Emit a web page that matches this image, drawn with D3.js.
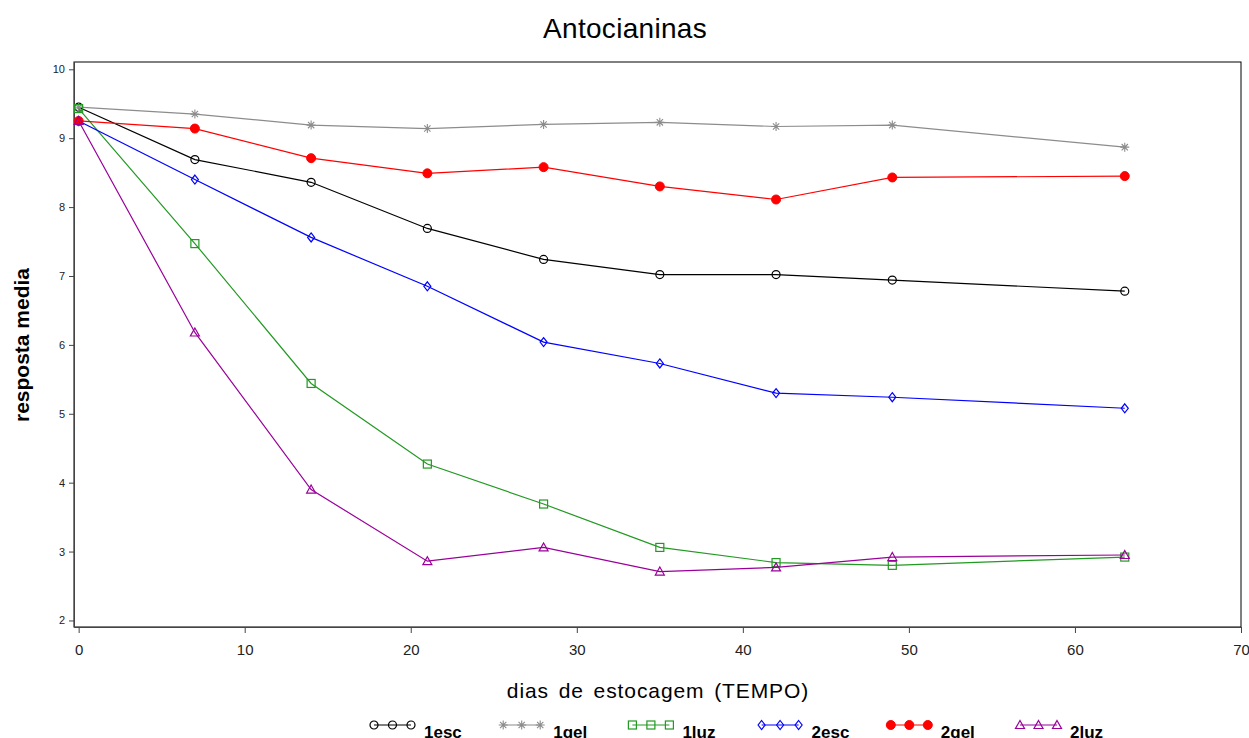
<!DOCTYPE html>
<html>
<head>
<meta charset="utf-8">
<script src="https://cdn.jsdelivr.net/npm/d3@7"></script>
<style>
  body { margin: 0; background: #fff; }
  svg { display: block; font-family: Arial, "Liberation Sans", sans-serif; }
</style>
</head>
<body>
<svg width="1249" height="738"></svg>
<script>
// dias de estocagem
const dias = [0, 7, 14, 21, 28, 35, 42, 49, 63];

const esc1 = [9.45, 8.69, 8.36, 7.69, 7.24, 7.02, 7.02, 6.94, 6.78];
const gel1 = [9.45, 9.35, 9.19, 9.14, 9.20, 9.23, 9.17, 9.19, 8.87];
const luz1 = [9.43, 7.47, 5.44, 4.27, 3.69, 3.06, 2.84, 2.80, 2.92];
const esc2 = [9.25, 8.40, 7.56, 6.85, 6.04, 5.73, 5.30, 5.24, 5.08];
const gel2 = [9.25, 9.14, 8.71, 8.49, 8.58, 8.30, 8.11, 8.43, 8.45];
const luz2 = [9.25, 6.18, 3.90, 2.86, 3.06, 2.71, 2.77, 2.92, 2.95];

const xTicks = [0, 10, 20, 30, 40, 50, 60, 70];
const yTicks = [2, 3, 4, 5, 6, 7, 8, 9, 10];

const series = [
  { name: "1esc", values: esc1, color: "#000000", sym: "circle" },
  { name: "1gel", values: gel1, color: "#8c8c8c", sym: "star" },
  { name: "1luz", values: luz1, color: "#229922", sym: "square" },
  { name: "2esc", values: esc2, color: "#0000ff", sym: "diamond" },
  { name: "2gel", values: gel2, color: "#ff0000", sym: "dot" },
  { name: "2luz", values: luz2, color: "#990099", sym: "triangle" }
];

var svg = d3.select("svg");
var pLeft = 74, pRight = 1241, pTop = 62, pBottom = 627;

var x = d3.scaleLinear().domain([-0.28, 70]).range([pLeft, pRight]);
var y = d3.scaleLinear().domain([1.905, 10.106]).range([pBottom, pTop]);

// frame
svg.append("rect")
  .attr("x", pLeft).attr("y", pTop)
  .attr("width", pRight - pLeft).attr("height", pBottom - pTop)
  .attr("fill", "none").attr("stroke", "#000").attr("stroke-width", 1);

var xAxis = svg.append("g")
  .attr("transform", "translate(0," + pBottom + ")")
  .call(d3.axisBottom(x).tickValues(xTicks).tickSize(6).tickPadding(11).tickSizeOuter(0));
xAxis.select(".domain").attr("stroke", "#444");
xAxis.selectAll("text").style("font-size", "15px").attr("fill", "#222");
xAxis.selectAll("line").attr("stroke", "#444");

var yAxis = svg.append("g")
  .attr("transform", "translate(" + pLeft + ",0)")
  .call(d3.axisLeft(y).tickValues(yTicks).tickSize(5).tickPadding(4).tickSizeOuter(0));
yAxis.select(".domain").attr("stroke", "#444");
yAxis.selectAll("text").style("font-size", "11px").attr("fill", "#222");
yAxis.selectAll("line").attr("stroke", "#444");

function drawMarker(g, sym, cx, cy, color) {
  if (sym === "circle") {
    g.append("circle").attr("cx", cx).attr("cy", cy).attr("r", 4)
      .attr("fill", "none").attr("stroke", color).attr("stroke-width", 1.2);
  } else if (sym === "dot") {
    g.append("circle").attr("cx", cx).attr("cy", cy).attr("r", 4.5)
      .attr("fill", color).attr("stroke", color);
  } else if (sym === "square") {
    g.append("rect").attr("x", cx - 4).attr("y", cy - 4).attr("width", 8).attr("height", 8)
      .attr("fill", "none").attr("stroke", color).attr("stroke-width", 1.2);
  } else if (sym === "diamond") {
    g.append("path").attr("d", `M${cx},${cy - 4.5}L${cx + 3.5},${cy}L${cx},${cy + 4.5}L${cx - 3.5},${cy}Z`)
      .attr("fill", "none").attr("stroke", color).attr("stroke-width", 1.2);
  } else if (sym === "triangle") {
    g.append("path").attr("d", `M${cx},${cy - 4.5}L${cx + 4.5},${cy + 3.5}L${cx - 4.5},${cy + 3.5}Z`)
      .attr("fill", "none").attr("stroke", color).attr("stroke-width", 1.2);
  } else if (sym === "star") {
    var s = 4.5, d = s * 0.7;
    g.append("path")
      .attr("d", `M${cx - s},${cy}L${cx + s},${cy}M${cx},${cy - s}L${cx},${cy + s}` +
        `M${cx - d},${cy - d}L${cx + d},${cy + d}M${cx - d},${cy + d}L${cx + d},${cy - d}`)
      .attr("stroke", color).attr("stroke-width", 1.1);
  }
}

var line = d3.line().x((d, i) => x(dias[i])).y(d => y(d));

series.forEach(function(s) {
  var g = svg.append("g");
  g.append("path").datum(s.values).attr("d", line)
    .attr("fill", "none").attr("stroke", s.color).attr("stroke-width", 1.2);
  s.values.forEach(function(v, i) {
    drawMarker(g, s.sym, x(dias[i]), y(v), s.color);
  });
});

// titles
svg.append("text").attr("x", 625).attr("y", 38).attr("text-anchor", "middle")
  .style("font-size", "28px").style("letter-spacing", "0.3px").text("Antocianinas");

svg.append("text").attr("transform", "translate(29,345) rotate(-90)")
  .attr("text-anchor", "middle").style("font-size", "21px").style("font-weight", "bold")
  .text("resposta media");

svg.append("text").attr("x", 658).attr("y", 698).attr("text-anchor", "middle")
  .style("font-size", "21px").style("letter-spacing", "0.9px").style("word-spacing", "3px")
  .text("dias de estocagem (TEMPO)");

// legend
var lg = svg.selectAll(".legendItem").data(series).enter().append("g")
  .attr("class", "legendItem")
  .attr("transform", (d, i) => `translate(${374 + i * 129.2},725)`);
lg.append("line").attr("x1", 0).attr("x2", 37).attr("y1", 0).attr("y2", 0)
  .attr("stroke", d => d.color).attr("stroke-width", 1.2);
lg.each(function(d) {
  var g = d3.select(this);
  [0, 18.5, 37].forEach(px => drawMarker(g, d.sym, px, 0, d.color));
});
lg.append("text").attr("x", 50).attr("y", 13)
  .style("font-size", "17px").style("font-weight", "bold")
  .text(d => d.name);
</script>
</body>
</html>
